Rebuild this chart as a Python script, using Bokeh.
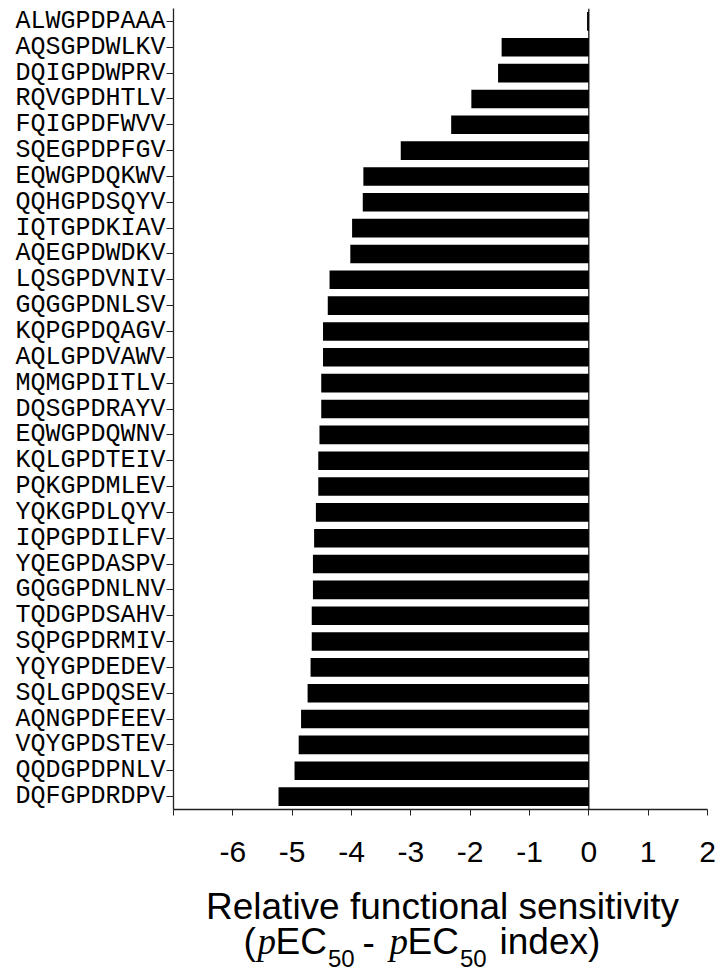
from bokeh.plotting import figure
from bokeh.models import FactorRange, Range1d, Span, FixedTicker
from bokeh.layouts import column
from bokeh.core.properties import value
from bokeh.embed import file_html
from bokeh.resources import INLINE

# Peptides listed top to bottom as in the chart
peptides = [
    "ALWGPDPAAA", "AQSGPDWLKV", "DQIGPDWPRV", "RQVGPDHTLV", "FQIGPDFWVV",
    "SQEGPDPFGV", "EQWGPDQKWV", "QQHGPDSQYV", "IQTGPDKIAV", "AQEGPDWDKV",
    "LQSGPDVNIV", "GQGGPDNLSV", "KQPGPDQAGV", "AQLGPDVAWV", "MQMGPDITLV",
    "DQSGPDRAYV", "EQWGPDQWNV", "KQLGPDTEIV", "PQKGPDMLEV", "YQKGPDLQYV",
    "IQPGPDILFV", "YQEGPDASPV", "GQGGPDNLNV", "TQDGPDSAHV", "SQPGPDRMIV",
    "YQYGPDEDEV", "SQLGPDQSEV", "AQNGPDFEEV", "VQYGPDSTEV", "QQDGPDPNLV",
    "DQFGPDRDPV",
]
values = [
    -0.03, -1.47, -1.53, -1.98, -2.32,
    -3.17, -3.80, -3.81, -3.99, -4.02,
    -4.37, -4.40, -4.48, -4.48, -4.51,
    -4.51, -4.54, -4.56, -4.56, -4.60,
    -4.63, -4.65, -4.65, -4.67, -4.67,
    -4.69, -4.74, -4.85, -4.89, -4.96,
    -5.23,
]
x_ticks = [-7, -6, -5, -4, -3, -2, -1, 0, 1, 2]
x_tick_labels = ["", "-6", "-5", "-4", "-3", "-2", "-1", "0", "1", "2"]

label_line1 = "Relative functional sensitivity"
label_main = ["(", "EC", "-", "EC", "index)"]
label_italic = ["p", "p"]
label_sub = ["50", "50"]

p = figure(
    width=718, height=880,
    y_range=FactorRange(factors=list(reversed(peptides)), range_padding=0),
    x_range=Range1d(-7, 2),
    output_backend="svg", toolbar_location=None,
    min_border_left=173, min_border_right=11, min_border_top=8, min_border_bottom=71,
)
p.outline_line_color = None
p.xgrid.visible = False
p.ygrid.visible = False

p.hbar(y=peptides, left=0, right=values, height=0.72, fill_color="black", line_color=None)
p.add_layout(Span(location=0, dimension="height", line_color="black", line_width=1.2))

ya = p.yaxis[0]
ya.major_label_text_font = "Liberation Mono"
ya.major_label_text_font_size = "25px"
ya.major_label_text_color = "black"
ya.axis_line_color = "#222222"
ya.axis_line_width = 1.3
ya.major_tick_line_color = "#222222"
ya.major_tick_out = 7
ya.major_tick_in = 0
ya.major_label_standoff = 1

xa = p.xaxis[0]
xa.ticker = FixedTicker(ticks=x_ticks)
xa.major_label_overrides = {t: s for t, s in zip(x_ticks, x_tick_labels)}
xa.major_label_text_font = "Liberation Sans"
xa.major_label_text_font_size = "30px"
xa.major_label_text_color = "black"
xa.axis_line_color = "#222222"
xa.axis_line_width = 1.3
xa.major_tick_line_color = "#222222"
xa.major_tick_out = 6
xa.major_tick_in = 0
xa.minor_tick_line_color = None
xa.major_label_standoff = 26

# Axis title drawn in a companion figure; its data units equal page pixels
q = figure(
    width=718, height=99,
    x_range=Range1d(173, 707), y_range=Range1d(979, 880),
    output_backend="svg", toolbar_location=None,
    min_border_left=173, min_border_right=11, min_border_top=0, min_border_bottom=0,
    x_axis_location=None, y_axis_location=None,
)
q.outline_line_color = None
q.xgrid.visible = False
q.ygrid.visible = False

b1 = 906
b2 = 941
bs = 958
q.text(x=[442], y=[b1], text=[label_line1], text_font=value("Liberation Sans"),
       text_font_size="37px", text_align="center", text_baseline="alphabetic", text_color="black")
q.text(x=[243, 275, 362, 407, 499], y=[b2] * 5, text=label_main,
       text_font=value("Liberation Sans"), text_font_size="37px",
       text_align="left", text_baseline="alphabetic", text_color="black")
q.text(x=[257, 389], y=[b2, b2], text=label_italic,
       text_font=value("Liberation Serif"), text_font_style="italic", text_font_size="37px",
       text_align="left", text_baseline="alphabetic", text_color="black")
q.text(x=[327.5, 459.5], y=[bs, bs], text=label_sub,
       text_font=value("Liberation Sans"), text_font_size="24px",
       text_align="left", text_baseline="alphabetic", text_color="black")

layout = column(p, q, spacing=0)
open("out.html", "w").write(file_html(layout, INLINE))
